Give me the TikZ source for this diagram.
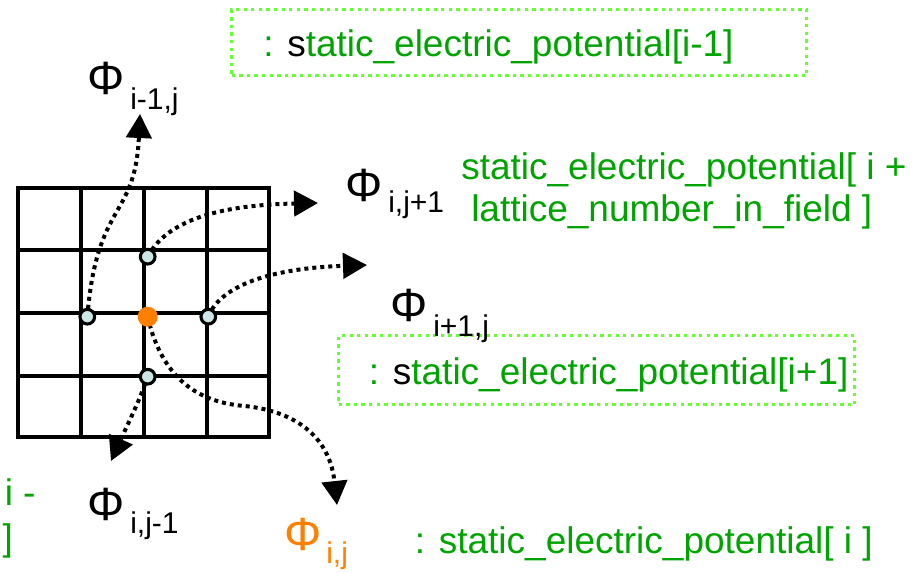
\documentclass[tikz,border=0pt]{standalone}
\usepackage{fontspec}
\setmainfont{Liberation Sans}
\usetikzlibrary{arrows.meta}
\definecolor{txtgreen}{RGB}{0,164,0}
\definecolor{boxgreen}{RGB}{102,255,51}
\definecolor{phiorange}{RGB}{255,128,0}
\definecolor{nodeblue}{RGB}{204,230,230}
\pgfdeclarelayer{bg}
\pgfsetlayers{bg,main}
\begin{document}
\begin{tikzpicture}[x=0.75pt,y=-0.75pt,
  gridline/.style={line width=2.8pt},
  dotcurve/.style={line width=3pt, dash pattern=on 3pt off 3pt, -{Triangle[length=18pt,width=19pt]}},
  greenbox/.style={draw=boxgreen, line width=2.5pt, dash pattern=on 2.5pt off 3.2pt, inner sep=0, anchor=north west},
  phi/.style={inner sep=0, anchor=base west, font=\fontsize{35}{40}\selectfont},
  subs/.style={inner sep=0, anchor=base west, font=\fontsize{22.5}{26}\selectfont},
  gtxt/.style={inner sep=0, anchor=base west, text=txtgreen, font=\fontsize{27.75}{32}\selectfont},
  site/.style={circle, draw=black, fill=nodeblue, line width=2.3pt, minimum size=11pt, inner sep=0},
  centre/.style={circle, fill=phiorange, minimum size=15pt, inner sep=0}
]
\useasboundingbox (0,0) rectangle (921,573);

% lattice sites
\node[site] (n) at (147.7,256.7) {};
\node[site] (w) at (87.3,316.7) {};
\node[site] (e) at (208.3,316.7) {};
\node[site] (s) at (147.7,376.7) {};
\node[centre] (c) at (147.7,316.7) {};

% arrow tips
\coordinate (tA) at (140,114);
\coordinate (tB) at (318,203);
\coordinate (tC) at (367,265);
\coordinate (tD) at (111,461);
\coordinate (bend) at (245,406);
\coordinate (tE) at (337,505);

\begin{pgfonlayer}{bg}
  \draw[gridline] (18,188) rectangle (269,437);
  \foreach \xx in {81,144,207} \draw[gridline] (\xx,188) -- (\xx,437);
  \foreach \yy in {250,313,376} \draw[gridline] (18,\yy) -- (269,\yy);
  \draw[dotcurve] (w.center) .. controls (97,200) and (135,220) .. (tA);
  \draw[dotcurve] (n.center) .. controls (168,218) and (225,205) .. (tB);
  \draw[dotcurve] (e.center) .. controls (222,282) and (280,268) .. (tC);
  \draw[dotcurve] (s.center) .. controls (140,400) and (125,430) .. (tD);
  \draw[dotcurve] (c.center) .. controls (160,370) and (190,402) .. (bend) .. controls (300,412) and (330,440) .. (tE);
\end{pgfonlayer}

% boxes
\node[greenbox, minimum width=431.25pt, minimum height=49.5pt] (box1) at (230,8) {};
\node[greenbox, minimum width=387pt, minimum height=51.75pt] (box2) at (337,334) {};

% labels
\node[phi] (p1) at (87,95) {Φ};
\node[subs] (s1) at (130,110) {i-1,j};
\node[phi] (p2) at (345,202) {Φ};
\node[subs] (s2) at (388,213) {i,j+1};
\node[phi] (p3) at (390,322) {Φ};
\node[subs] (s3) at (433,337) {i+1,j};
\node[phi] (p4) at (87,520) {Φ};
\node[subs] (s4) at (130,533) {i,j-1};
\node[phi, text=phiorange] (p5) at (284,550) {Φ};
\node[subs, text=phiorange] (s5) at (326,563) {i,j};

\node[gtxt] (g1) at (461,180) {static\_electric\_potential[ i +};
\node[gtxt] (g2) at (471,222) {lattice\_number\_in\_field ]};
\node[gtxt] (t1) at (263,57) {: \textcolor{black}{s}tatic\_electric\_potential[i-1]};
\node[gtxt] (t2) at (368.6,385) {: \textcolor{black}{s}tatic\_electric\_potential[i+1]};
\node[gtxt] (t3) at (414.6,553) {: static\_electric\_potential[ i ]};
\node[gtxt] (t4) at (4.5,505) {i -};
\node[gtxt] (t5) at (2.3,550) {]};
\end{tikzpicture}
\end{document}
